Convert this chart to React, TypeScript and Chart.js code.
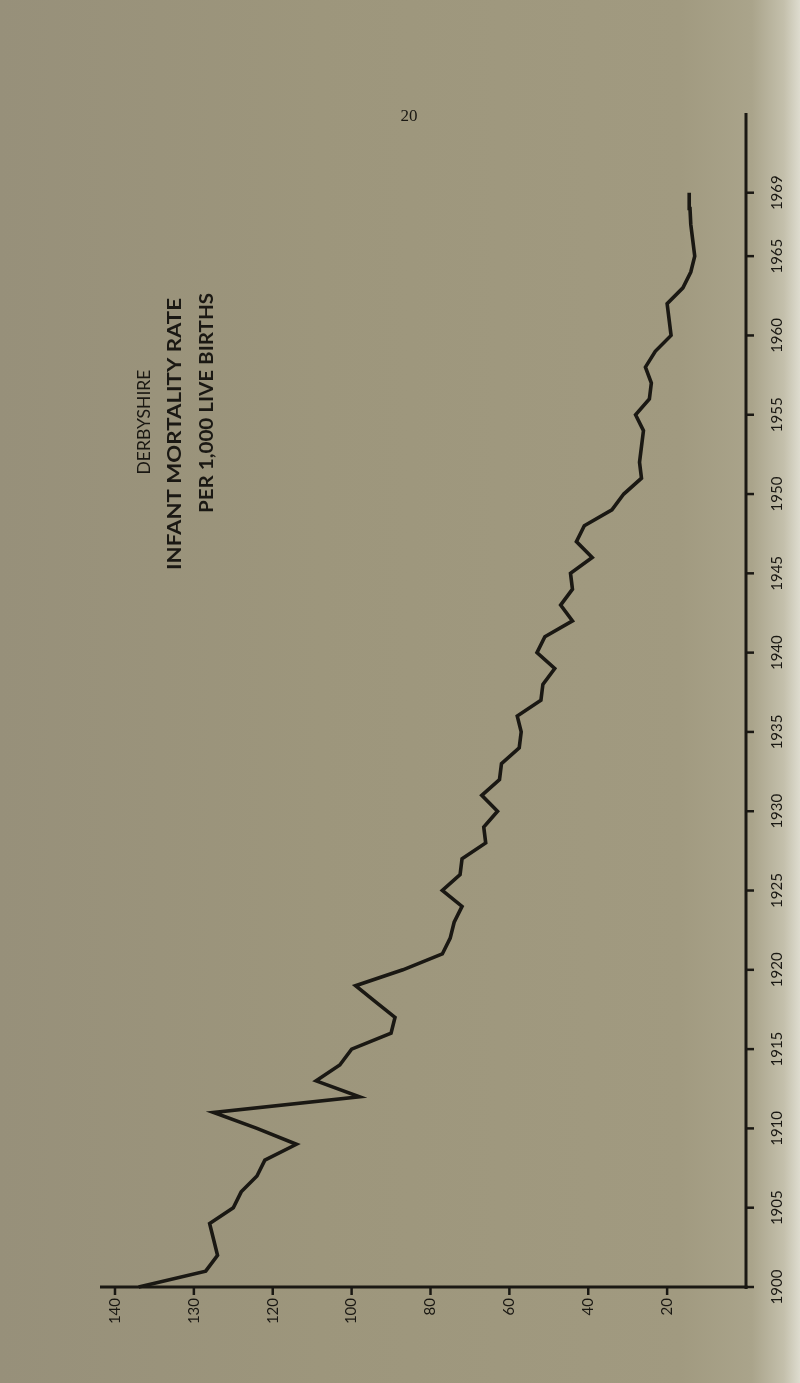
import React, { useEffect, useRef } from "react";
import { Chart, registerables } from "chart.js";

Chart.register(...registerables);

// Years (vertical axis in the rotated page)
const YEARS = [
  1900, 1901, 1902, 1903, 1904, 1905, 1906, 1907, 1908, 1909,
  1910, 1911, 1912, 1913, 1914, 1915, 1916, 1917, 1918, 1919,
  1920, 1921, 1922, 1923, 1924, 1925, 1926, 1927, 1928, 1929,
  1930, 1931, 1932, 1933, 1934, 1935, 1936, 1937, 1938, 1939,
  1940, 1941, 1942, 1943, 1944, 1945, 1946, 1947, 1948, 1949,
  1950, 1951, 1952, 1953, 1954, 1955, 1956, 1957, 1958, 1959,
  1960, 1961, 1962, 1963, 1964, 1965, 1966, 1967, 1968, 1969,
];

// Infant mortality rate per 1,000 live births (read on the drawn linear scale)
const RATES = [
  154, 137, 134, 135, 136, 130, 128, 124, 122, 114,
  124, 135, 98, 109, 103, 100, 90, 89, 94, 99,
  87, 77, 75, 74, 72, 77, 72.5, 72, 66, 66.5,
  63, 67, 62.5, 62, 57.5, 57, 58, 52, 51.5, 48.5,
  53, 51, 44, 47, 44, 44.5, 39, 43, 41, 34,
  31, 26.5, 27, 26.5, 26, 28, 24.5, 24, 25.5, 23,
  19, 19.5, 20, 16, 14, 13, 13.5, 14, 14.2, 14.4,
];

// Rate axis tick positions and the labels printed under them
const RATE_TICK_VALUES = [160, 140, 120, 100, 80, 60, 40, 20];
const RATE_TICK_LABELS = ["140", "130", "120", "100", "80", "60", "40", "20"];

// Year axis ticks
const YEAR_TICKS = [1900, 1905, 1910, 1915, 1920, 1925, 1930, 1935, 1940, 1945, 1950, 1955, 1960, 1965, 1969];
const YEAR_TICK_LABELS = ["1900", "1905", "1910", "1915", "1920", "1925", "1930", "1935", "1940", "1945", "1950", "1955", "1960", "1965", "1969"];

const TITLE = "DERBYSHIRE";
const SUBTITLE_1 = "INFANT MORTALITY RATE";
const SUBTITLE_2 = "PER 1,000 LIVE BIRTHS";
const PAGE_NUMBER = "20";

const INK = "#1a1813";

function drawRotatedFitted(
  ctx: CanvasRenderingContext2D,
  text: string,
  cx: number,
  cy: number,
  targetLen: number,
  font: string,
  align: CanvasTextAlign = "center"
) {
  ctx.save();
  ctx.font = font;
  ctx.fillStyle = INK;
  ctx.translate(cx, cy);
  ctx.rotate(-Math.PI / 2);
  const w = ctx.measureText(text).width;
  const s = targetLen > 0 && w > 0 ? targetLen / w : 1;
  ctx.scale(s, 1);
  ctx.textAlign = align;
  ctx.textBaseline = "middle";
  ctx.fillText(text, 0, 0);
  ctx.restore();
}

const pagePlugin = {
  id: "pageDecor",
  afterDraw(chart: any) {
    const ctx: CanvasRenderingContext2D = chart.ctx;
    const xs = chart.scales.x;
    const ys = chart.scales.y;
    const area = chart.chartArea;
    const axisX = xs.getPixelForValue(0);
    const axisY = ys.getPixelForValue(1900);

    ctx.save();
    ctx.strokeStyle = INK;
    ctx.lineCap = "butt";

    // vertical (year) axis line
    ctx.lineWidth = 3;
    ctx.beginPath();
    ctx.moveTo(axisX, area.top - 2);
    ctx.lineTo(axisX, axisY + 2);
    ctx.stroke();

    // horizontal (rate) axis line
    ctx.lineWidth = 3;
    ctx.beginPath();
    ctx.moveTo(area.left, axisY);
    ctx.lineTo(axisX + 1.5, axisY);
    ctx.stroke();

    // rate ticks + labels
    ctx.lineWidth = 2.5;
    RATE_TICK_VALUES.forEach((v, i) => {
      const px = xs.getPixelForValue(v);
      ctx.beginPath();
      ctx.moveTo(px, axisY);
      ctx.lineTo(px, axisY + 8);
      ctx.stroke();
      const label = RATE_TICK_LABELS[i];
      ctx.save();
      ctx.font = "15px Lato, 'Open Sans', sans-serif";
      ctx.fillStyle = INK;
      ctx.translate(px, axisY + 11);
      ctx.rotate(-Math.PI / 2);
      ctx.textAlign = "right";
      ctx.textBaseline = "middle";
      ctx.fillText(label, 0, 0);
      ctx.restore();
    });

    // year ticks + labels
    YEAR_TICKS.forEach((yr, i) => {
      const py = ys.getPixelForValue(yr);
      ctx.beginPath();
      ctx.moveTo(axisX, py);
      ctx.lineTo(axisX + 8, py);
      ctx.stroke();
      ctx.save();
      ctx.font = "15px Lato, 'Open Sans', sans-serif";
      ctx.fillStyle = INK;
      ctx.translate(axisX + 31, py);
      ctx.rotate(-Math.PI / 2);
      ctx.textAlign = "center";
      ctx.textBaseline = "middle";
      ctx.fillText(YEAR_TICK_LABELS[i], 0, 0);
      ctx.restore();
    });
    ctx.restore();

    // titles (rotated)
    drawRotatedFitted(ctx, TITLE, 145, 422, 105, "17px Lato, 'Open Sans', sans-serif");
    drawRotatedFitted(ctx, SUBTITLE_1, 175, 434, 272, "bold 18px Lato, 'Open Sans', sans-serif");
    drawRotatedFitted(ctx, SUBTITLE_2, 207, 403, 220, "bold 18px Lato, 'Open Sans', sans-serif");

    // page number (upright)
    ctx.save();
    ctx.font = "17px 'Liberation Serif', 'DejaVu Serif', serif";
    ctx.fillStyle = INK;
    ctx.textAlign = "center";
    ctx.textBaseline = "middle";
    ctx.fillText(PAGE_NUMBER, 409, 117);
    ctx.restore();
  },
};

export default function App() {
  const canvasRef = useRef<HTMLCanvasElement | null>(null);

  useEffect(() => {
    const canvas = canvasRef.current;
    if (!canvas) return;
    const points = YEARS.map((yr, i) => ({ x: RATES[i], y: yr }));
    const chart = new Chart(canvas, {
      type: "line",
      data: {
        datasets: [
          {
            data: points,
            borderColor: INK,
            borderWidth: 3.6,
            borderJoinStyle: "miter",
            borderCapStyle: "butt",
            pointRadius: 0,
            tension: 0,
            fill: false,
            clip: false as any,
          },
        ],
      },
      options: {
        indexAxis: "y",
        responsive: false,
        animation: false,
        events: [],
        layout: { padding: { left: 100, right: 54, top: 115, bottom: 96 } },
        plugins: { legend: { display: false }, tooltip: { enabled: false }, title: { display: false } },
        scales: {
          x: { type: "linear", reverse: true, min: 0, max: 163.8, display: false },
          y: { type: "linear", min: 1900, max: 1973.9, display: false },
        },
      },
      plugins: [pagePlugin],
    });
    return () => chart.destroy();
  }, []);

  return (
    <div
      style={{
        position: "absolute",
        left: 0,
        top: 0,
        width: 800,
        height: 1383,
        background:
          "linear-gradient(to right, #97907a 0%, #9d967c 40%, #a19a80 85%, #aaa48b 94%, #c4c0ac 98%, #dedccf 100%)",
        overflow: "hidden",
      }}
    >
      <canvas ref={canvasRef} width={800} height={1383} style={{ display: "block" }} />
    </div>
  );
}
